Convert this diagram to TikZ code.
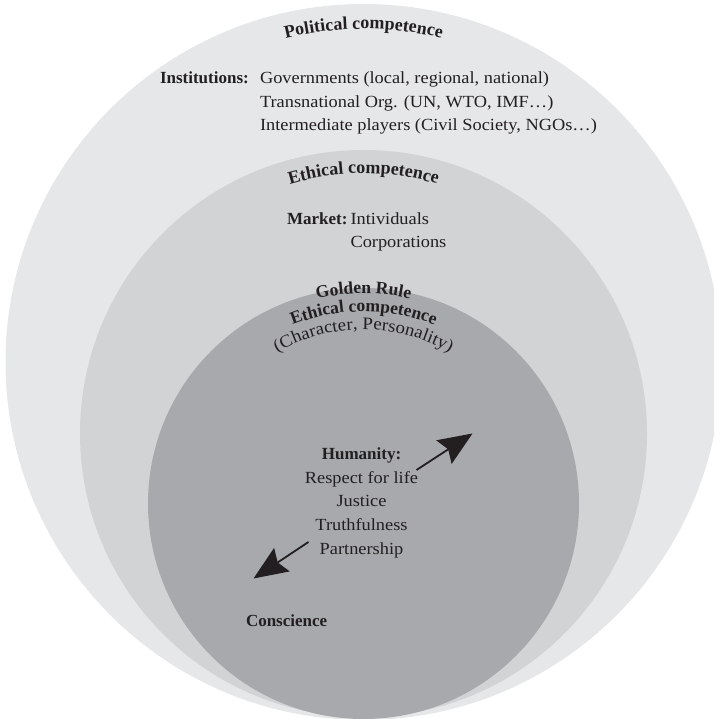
\documentclass[tikz,border=0pt]{standalone}
\usepackage{fontspec}
\setmainfont{Liberation Serif}[UprightFeatures={FakeStretch=1.08}]
\usetikzlibrary{decorations.text,arrows.meta}
\definecolor{ringA}{HTML}{E6E7E8}
\definecolor{ringB}{HTML}{D1D3D4}
\definecolor{ringC}{HTML}{A7A9AC}
\definecolor{ink}{HTML}{231F20}
\newcommand\myctitle{\color{ink}\fontsize{18}{20}\selectfont\bfseries}
\newcommand\myititle{\color{ink}\fontsize{17.5}{20}\selectfont\bfseries}
\newcommand\myctext{\color{ink}\fontsize{17.5}{20}\selectfont}
\begin{document}
\fontsize{17}{23.5}\selectfont
\begin{tikzpicture}[x=1pt,y=1pt,
  font=\fontsize{17}{23.5}\selectfont,
  every node/.style={text=ink, inner sep=0pt, outer sep=0pt},
  lbl/.style={font=\fontsize{17}{23.5}\selectfont\bfseries, anchor=base west},
  lblc/.style={font=\fontsize{17}{23.5}\selectfont\bfseries, anchor=base},
  txt/.style={anchor=base west},
  ctr/.style={anchor=base},
  arc text/.style={decorate, decoration={text along path, text align=center, text={#1}}},
  bigarrow/.style={draw=ink, line width=1.8pt, -{Stealth[length=34pt,width=28pt,inset=5pt]}}
]
\clip (0,0) rectangle (714,719);
% rings
\fill[ringA] (363.5,357) circle[radius=358];
\fill[ringB] (363.5,285.5) circle[radius=283.5];
\fill[ringC] (363.5,215.5) circle[radius=215.5];
% curved titles
\path[arc text={|\myctitle|Political competence}] (363.5,357) ++(150:333) arc[start angle=150,end angle=30,radius=333];
\path[arc text={|\myctitle|Ethical competence}] (363.5,285.5) ++(150:260) arc[start angle=150,end angle=30,radius=260];
\path[arc text={|\myititle|Golden Rule}] (363.5,215.5) ++(150:210) arc[start angle=150,end angle=30,radius=210];
\path[arc text={|\myititle|Ethical competence}] (363.5,215.5) ++(150:192) arc[start angle=150,end angle=30,radius=192];
\path[arc text={|\myctext|(Character, Personality)}] (363.5,215.5) ++(150:174) arc[start angle=150,end angle=30,radius=174];
% institutions
\node[lbl] (inst) at (160,635) {Institutions:};
\node[txt] (gov) at (260,635) {Governments (local, regional, national)};
\node[txt] (trans) at (260,611.5) {Transnational Org. (UN, WTO, IMF…)};
\node[txt] (inter) at (260,588) {Intermediate players (Civil Society, NGOs…)};
% market
\node[lbl] (market) at (287,494.5) {Market:};
\node[txt] (indiv) at (350.5,494.5) {Intividuals};
\node[txt] (corp) at (350.5,471) {Corporations};
% humanity
\node[lblc] (hum) at (361.5,259.5) {Humanity:};
\node[ctr] (life) at (361.5,235.8) {Respect for life};
\node[ctr] (just) at (361.5,212.1) {Justice};
\node[ctr] (truth) at (361.5,188.4) {Truthfulness};
\node[ctr] (part) at (361.5,164.7) {Partnership};
% conscience
\node[lbl] (consc) at (246,92) {Conscience};
% arrows
\coordinate (upS) at (416.5,249);
\coordinate (upE) at (472.5,285.5);
\coordinate (dnS) at (308.5,177);
\coordinate (dnE) at (253.5,140.5);
\draw[bigarrow] (upS) -- (upE);
\draw[bigarrow] (dnS) -- (dnE);
\end{tikzpicture}
\end{document}
